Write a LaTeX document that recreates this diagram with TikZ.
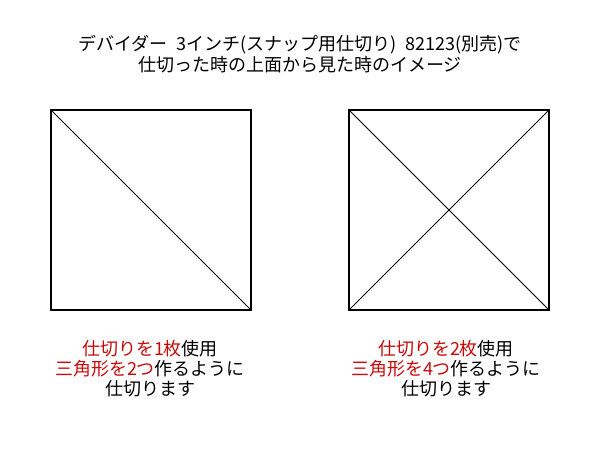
\documentclass[tikz,border=0pt]{standalone}
\usepackage{fontspec}
\setmainfont{Noto Sans CJK JP}
\usetikzlibrary{positioning}
\definecolor{notered}{RGB}{200,10,10}

\tikzset{
    box/.style={line width=2pt},
    cut/.style={line width=0.8pt},
    caption/.style={align=center, font=\fontsize{18}{20}\selectfont, inner sep=0pt},
}
\newcommand{\gap}{\hspace{9pt}}

\begin{document}
\begin{tikzpicture}[x=1pt, y=-1pt]
    % Page frame
    \useasboundingbox (0,0) rectangle (600,450);

    % Title
    \node[caption, font=\fontsize{18}{21.5}\selectfont] (title) at (300,54)
        {デバイダー\gap 3インチ(スナップ用仕切り)\gap 82123(別売)で\\仕切った時の上面から見た時のイメージ};

    % Corners of the two squares
    \coordinate (A1) at (51,110);
    \coordinate (A2) at (251,110);
    \coordinate (A3) at (251,310);
    \coordinate (A4) at (51,310);
    \coordinate (B1) at (349,110);
    \coordinate (B2) at (549,110);
    \coordinate (B3) at (549,310);
    \coordinate (B4) at (349,310);

    % Left square: one divider
    \draw[box] (A1) -- (A2) -- (A3) -- (A4) -- cycle;
    \draw[cut] (A1) -- (A3);

    % Right square: two dividers
    \draw[box] (B1) -- (B2) -- (B3) -- (B4) -- cycle;
    \draw[cut] (B1) -- (B3);
    \draw[cut] (B2) -- (B4);

    % Captions below
    \node[caption] (leftnote) at (150,369)
        {\textcolor{notered}{仕切りを1枚}使用\\\textcolor{notered}{三角形を2つ}作るように\\仕切ります};
    \node[caption] (rightnote) at (446,369)
        {\textcolor{notered}{仕切りを2枚}使用\\\textcolor{notered}{三角形を4つ}作るように\\仕切ります};
\end{tikzpicture}
\end{document}
